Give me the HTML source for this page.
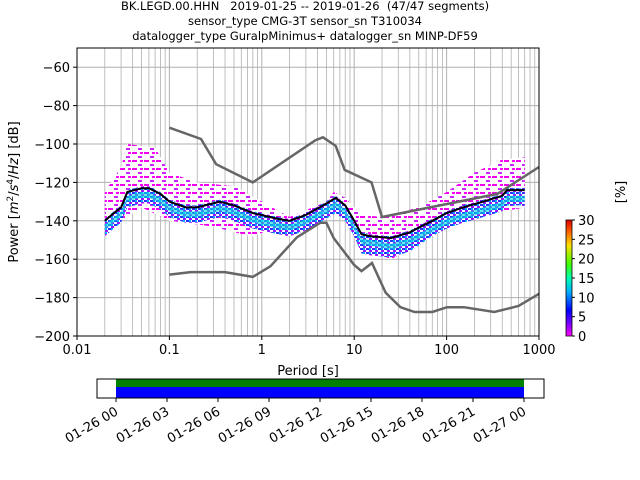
<!DOCTYPE html>
<html><head><meta charset="utf-8"><style>
html,body{margin:0;padding:0;background:#fff;width:640px;height:480px;overflow:hidden}
svg text{font-family:"DejaVu Sans","Liberation Sans",sans-serif;fill:#000}
</style></head><body>
<svg id="s" width="640" height="480" xmlns="http://www.w3.org/2000/svg">
<defs>
<pattern id="pm" width="12" height="8" patternUnits="userSpaceOnUse">
<rect width="12" height="8" fill="#fff"/>
<rect x="0" y="0" width="5" height="2" fill="#ee00ee"/>
<rect x="6" y="4" width="4" height="2" fill="#cc22ff"/>
<rect x="8" y="0" width="3" height="2" fill="#ff00ff"/>
</pattern>
<pattern id="pb" width="6" height="4" patternUnits="userSpaceOnUse">
<rect width="6" height="4" fill="#fff"/>
<rect x="0" y="0" width="3" height="2" fill="#2a30ff"/>
<rect x="3" y="2" width="3" height="2" fill="#9a10ff"/>
<rect x="3" y="0" width="2" height="2" fill="#00b0ff"/>
</pattern>
<linearGradient id="cb" x1="0" y1="1" x2="0" y2="0">
<stop offset="0" stop-color="#ff00ff"/><stop offset="0.1" stop-color="#8000ff"/>
<stop offset="0.22" stop-color="#0000ff"/><stop offset="0.38" stop-color="#00b0ff"/>
<stop offset="0.5" stop-color="#00ffb0"/><stop offset="0.62" stop-color="#40ff00"/>
<stop offset="0.78" stop-color="#ffe000"/><stop offset="0.9" stop-color="#ff6000"/>
<stop offset="1" stop-color="#e00000"/>
</linearGradient>
</defs>
<g id="g"></g>
</svg>
<script>
const NS="http://www.w3.org/2000/svg",g=document.getElementById('g');
function X(p){return 77+92.4*Math.log10(p/0.01)}
function Y(d){return 336-(d+200)*1.92}
function el(t,a,txt){const e=document.createElementNS(NS,t);for(const k in a)e.setAttribute(k,a[k]);if(txt!==undefined)e.textContent=txt;g.appendChild(e);return e}
function pts(a){return a.map(q=>X(q[0]).toFixed(1)+","+Y(q[1]).toFixed(1)).join(" ")}
for(let e=-2;e<3;e++)for(let m=1;m<10;m++){const x=X(Math.pow(10,e)*m);el('line',{x1:x,x2:x,y1:48,y2:336,stroke:'#b0b0b0','stroke-width':m==1?1:0.8})}
for(let d=-180;d<=-60;d+=20)el('line',{x1:77,x2:539,y1:Y(d),y2:Y(d),stroke:'#b0b0b0','stroke-width':1});
const up=[[0.02,-125],[0.03,-112],[0.035,-100],[0.07,-102],[0.1,-115],[0.2,-120],[0.5,-122],[1,-130],[2,-138],[5,-130],[6,-125],[8,-128],[12,-137],[20,-138],[50,-133],[100,-125],[200,-115],[400,-108],[700,-107]];
const lo=[[700,-133],[250,-137],[150,-141],[100,-143],[70,-146],[40,-155],[25,-160],[20,-158],[12,-152],[9,-140],[6.5,-131],[5,-133],[3,-140],[2,-143],[1.5,-143],[0.8,-148],[0.5,-146],[0.3,-143],[0.1,-140],[0.05,-133],[0.03,-140],[0.02,-145]];
el('polygon',{points:pts(up.concat(lo)),fill:'url(#pm)'});
const mean=[[0.02,-140],[0.025,-136],[0.03,-133],[0.035,-125],[0.05,-123],[0.06,-123],[0.08,-126],[0.1,-130],[0.15,-133],[0.2,-133],[0.35,-130],[0.5,-132],[0.8,-136],[1.5,-139],[2,-140],[3,-137],[5,-131],[6.3,-128],[8,-132],[10,-140],[12,-147],[15,-148],[25,-149],[40,-146],[70,-140],[100,-136],[150,-133],[250,-130],[400,-127],[450,-124],[700,-124]];
const bu=mean.map(q=>[q[0],q[1]+1]),bl=mean.slice().reverse().map(q=>[q[0],q[1]+(q[0]>10&&q[0]<60?-10:-8)]);
el('polygon',{points:pts(bu.concat(bl)),fill:'url(#pb)'});
const cu=mean.map(q=>[q[0],q[1]+(q[0]>20?-3:-2)]),cl=mean.slice().reverse().map(q=>[q[0],q[1]+(q[0]>20?-6:-5)]);
el('polygon',{points:pts(cu.concat(cl)),fill:'#00e0e0','fill-opacity':0.6});
const nh=[[0.1,-91.5],[0.22,-97.4],[0.32,-110.5],[0.8,-120],[3.8,-98],[4.6,-96.5],[6.3,-101],[7.9,-113.5],[15.4,-120],[20,-138],[354,-126],[1000,-112]];
const nl=[[0.1,-168],[0.17,-166.7],[0.4,-166.7],[0.8,-169.2],[1.24,-163.7],[2.4,-148.6],[4.3,-141],[5,-141],[6,-149],[10,-163],[12,-166.2],[15.6,-162],[21.9,-177.5],[31.6,-185],[45,-187.5],[70,-187.5],[101,-185],[154,-185],[328,-187.5],[600,-184.4],[1000,-178]];
el('polyline',{points:pts(nh),fill:'none',stroke:'#666','stroke-width':2.5});
el('polyline',{points:pts(nl),fill:'none',stroke:'#666','stroke-width':2.5});
el('polyline',{points:pts(mean),fill:'none',stroke:'#000','stroke-width':2});
el('rect',{x:77,y:48,width:462,height:288,fill:'none',stroke:'#000','stroke-width':1});
const xl=['0.01','0.1','1','10','100','1000'];
for(let i=0;i<6;i++){const x=77+92.4*i;el('line',{x1:x,x2:x,y1:336,y2:340,stroke:'#000'});el('text',{x:x,y:354,'font-size':13,'text-anchor':'middle'},xl[i])}
for(let d=-200;d<=-60;d+=20){const y=Y(d);el('line',{x1:73,x2:77,y1:y,y2:y,stroke:'#000'});el('text',{x:70,y:y+5,'font-size':13,'text-anchor':'end'},'\u2212'+(-d))}
el('text',{x:308,y:375,'font-size':13,'text-anchor':'middle'},'Period [s]');
const yl=el('text',{x:0,y:0,'font-size':13,'text-anchor':'middle',transform:'translate(18,192) rotate(-90)'});
yl.innerHTML='Power [<tspan font-style="italic">m</tspan><tspan dy="-5" font-size="9">2</tspan><tspan dy="5">/</tspan><tspan font-style="italic">s</tspan><tspan dy="-5" font-size="9">4</tspan><tspan dy="5">/</tspan><tspan font-style="italic">Hz</tspan>] [dB]';
el('text',{x:305,y:10,'font-size':11.5,'text-anchor':'middle'},'BK.LEGD.00.HHN\u00a0\u00a0\u00a02019-01-25 -- 2019-01-26\u00a0 (47/47 segments)');
el('text',{x:305,y:25,'font-size':11.5,'text-anchor':'middle'},'sensor_type CMG-3T sensor_sn T310034');
el('text',{x:305,y:40,'font-size':11.5,'text-anchor':'middle'},'datalogger_type GuralpMinimus+ datalogger_sn MINP-DF59');
el('rect',{x:566,y:220,width:6,height:116,fill:'url(#cb)',stroke:'#000','stroke-width':0.8});
for(let v=0;v<=30;v+=5){const y=336-v*116/30;el('line',{x1:572,x2:575,y1:y,y2:y,stroke:'#000'});el('text',{x:578,y:y+5,'font-size':13},String(v))}
el('text',{x:0,y:0,'font-size':13,'text-anchor':'middle',transform:'translate(625,192) rotate(-90)'},'[%]');
el('rect',{x:116,y:379,width:408,height:8,fill:'#008000'});
el('rect',{x:116,y:387,width:408,height:11,fill:'#0000ff'});
el('rect',{x:97,y:379,width:447,height:19,fill:'none',stroke:'#000','stroke-width':1});
const tl=['01-26 00','01-26 03','01-26 06','01-26 09','01-26 12','01-26 15','01-26 18','01-26 21','01-27 00'];
for(let i=0;i<9;i++){const x=116+51*i;el('line',{x1:x,x2:x,y1:398,y2:402,stroke:'#000'});el('text',{x:0,y:0,'font-size':13,'text-anchor':'end',transform:`translate(${x+3},${414}) rotate(-30)`},tl[i])}
</script>
</body></html>
